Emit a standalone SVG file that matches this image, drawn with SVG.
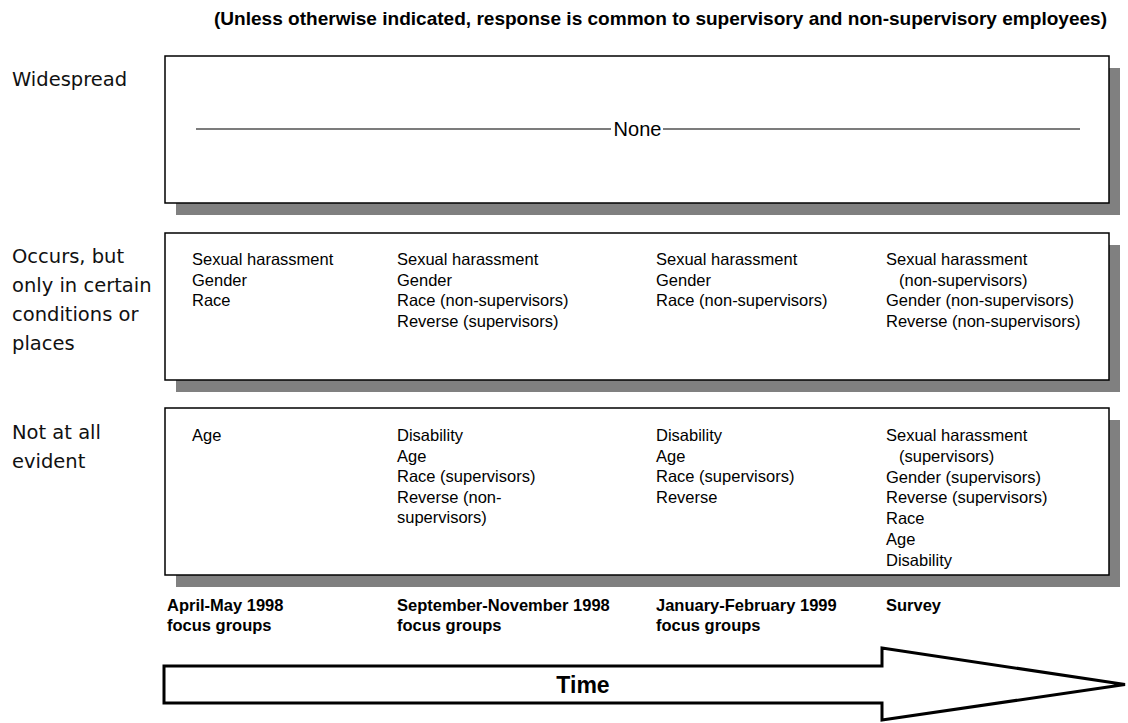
<svg xmlns="http://www.w3.org/2000/svg" width="1128" height="723" viewBox="0 0 1128 723">
  <style>
    .panel { fill: #ffffff; stroke: #000000; stroke-width: 1.5; }
    .shadow { fill: #808080; stroke: none; }
    .row-label { font-family: "DejaVu Sans", "Liberation Sans", sans-serif; font-size: 19.5px; fill: #111111; }
    .item { font-family: "Liberation Sans", Arial, sans-serif; font-size: 16.5px; fill: #000000; }
    .period { font-family: "Liberation Sans", Arial, sans-serif; font-size: 16.5px; font-weight: bold; fill: #000000; }
    .note { font-family: "Liberation Sans", Arial, sans-serif; font-size: 18.5px; font-weight: bold; fill: #000000; }
    .rule { stroke: #505050; stroke-width: 1.4; }
  </style>

  <!-- header note -->
  <text class="note" x="214" y="25" textLength="893" lengthAdjust="spacingAndGlyphs">(Unless otherwise indicated, response is common to supervisory and non-supervisory employees)</text>

  <!-- row labels -->
  <g id="label-widespread">
    <text class="row-label" x="12" y="86">Widespread</text>
  </g>
  <g id="label-occurs">
    <text class="row-label" x="12" y="263">Occurs, but</text>
    <text class="row-label" x="12" y="292">only in certain</text>
    <text class="row-label" x="12" y="321">conditions or</text>
    <text class="row-label" x="12" y="350">places</text>
  </g>
  <g id="label-not-evident">
    <text class="row-label" x="12" y="439">Not at all</text>
    <text class="row-label" x="12" y="468">evident</text>
  </g>

  <!-- row 1: widespread -->
  <g id="box-widespread">
    <rect class="shadow" x="176" y="68" width="944" height="147"/>
    <rect class="panel" x="165" y="56" width="944" height="147"/>
    <line class="rule" x1="196" y1="129" x2="611" y2="129"/>
    <line class="rule" x1="663" y1="129" x2="1080" y2="129"/>
    <text class="item" x="637.5" y="136" text-anchor="middle" style="font-size:20px">None</text>
  </g>

  <!-- row 2: occurs in certain conditions -->
  <g id="box-occurs">
    <rect class="shadow" x="176" y="245" width="944" height="147"/>
    <rect class="panel" x="165" y="233" width="944" height="147"/>
    <text class="item" x="192" y="265">
      <tspan x="192">Sexual harassment</tspan>
      <tspan x="192" dy="20.5">Gender</tspan>
      <tspan x="192" dy="20.5">Race</tspan>
    </text>
    <text class="item" x="397" y="265">
      <tspan x="397">Sexual harassment</tspan>
      <tspan x="397" dy="20.5">Gender</tspan>
      <tspan x="397" dy="20.5">Race (non-supervisors)</tspan>
      <tspan x="397" dy="20.5">Reverse (supervisors)</tspan>
    </text>
    <text class="item" x="656" y="265">
      <tspan x="656">Sexual harassment</tspan>
      <tspan x="656" dy="20.5">Gender</tspan>
      <tspan x="656" dy="20.5">Race (non-supervisors)</tspan>
    </text>
    <text class="item" x="886" y="265">
      <tspan x="886">Sexual harassment</tspan>
      <tspan x="899" dy="20.5">(non-supervisors)</tspan>
      <tspan x="886" dy="20.5">Gender (non-supervisors)</tspan>
      <tspan x="886" dy="20.5">Reverse (non-supervisors)</tspan>
    </text>
  </g>

  <!-- row 3: not at all evident -->
  <g id="box-not-evident">
    <rect class="shadow" x="176" y="420" width="944" height="167"/>
    <rect class="panel" x="165" y="408" width="944" height="167"/>
    <text class="item" x="192" y="441">
      <tspan x="192">Age</tspan>
    </text>
    <text class="item" x="397" y="441">
      <tspan x="397">Disability</tspan>
      <tspan x="397" dy="20.5">Age</tspan>
      <tspan x="397" dy="20.5">Race (supervisors)</tspan>
      <tspan x="397" dy="20.5">Reverse (non-</tspan>
      <tspan x="397" dy="20.5">supervisors)</tspan>
    </text>
    <text class="item" x="656" y="441">
      <tspan x="656">Disability</tspan>
      <tspan x="656" dy="20.5">Age</tspan>
      <tspan x="656" dy="20.5">Race (supervisors)</tspan>
      <tspan x="656" dy="20.5">Reverse</tspan>
    </text>
    <text class="item" x="886" y="441">
      <tspan x="886">Sexual harassment</tspan>
      <tspan x="899" dy="20.8">(supervisors)</tspan>
      <tspan x="886" dy="20.8">Gender (supervisors)</tspan>
      <tspan x="886" dy="20.8">Reverse (supervisors)</tspan>
      <tspan x="886" dy="20.8">Race</tspan>
      <tspan x="886" dy="20.8">Age</tspan>
      <tspan x="886" dy="20.8">Disability</tspan>
    </text>
  </g>

  <!-- period captions -->
  <g id="period-1">
    <text class="period" x="167" y="611"><tspan x="167">April-May 1998</tspan><tspan x="167" dy="19.5">focus groups</tspan></text>
  </g>
  <g id="period-2">
    <text class="period" x="397" y="611"><tspan x="397">September-November 1998</tspan><tspan x="397" dy="19.5">focus groups</tspan></text>
  </g>
  <g id="period-3">
    <text class="period" x="656" y="611"><tspan x="656">January-February 1999</tspan><tspan x="656" dy="19.5">focus groups</tspan></text>
  </g>
  <g id="period-4">
    <text class="period" x="886" y="611">Survey</text>
  </g>

  <!-- time arrow -->
  <g id="connectors">
    <g id="time-arrow">
      <polygon points="164,666 882,666 882,648 1125,684.5 882,720 882,703 164,703" fill="#ffffff" stroke="#000000" stroke-width="3" stroke-linejoin="miter" stroke-miterlimit="4"/>
      <text x="583" y="693" text-anchor="middle" style="font-family:'Liberation Sans', Arial, sans-serif; font-size:23px; font-weight:bold">Time</text>
    </g>
  </g>
</svg>
